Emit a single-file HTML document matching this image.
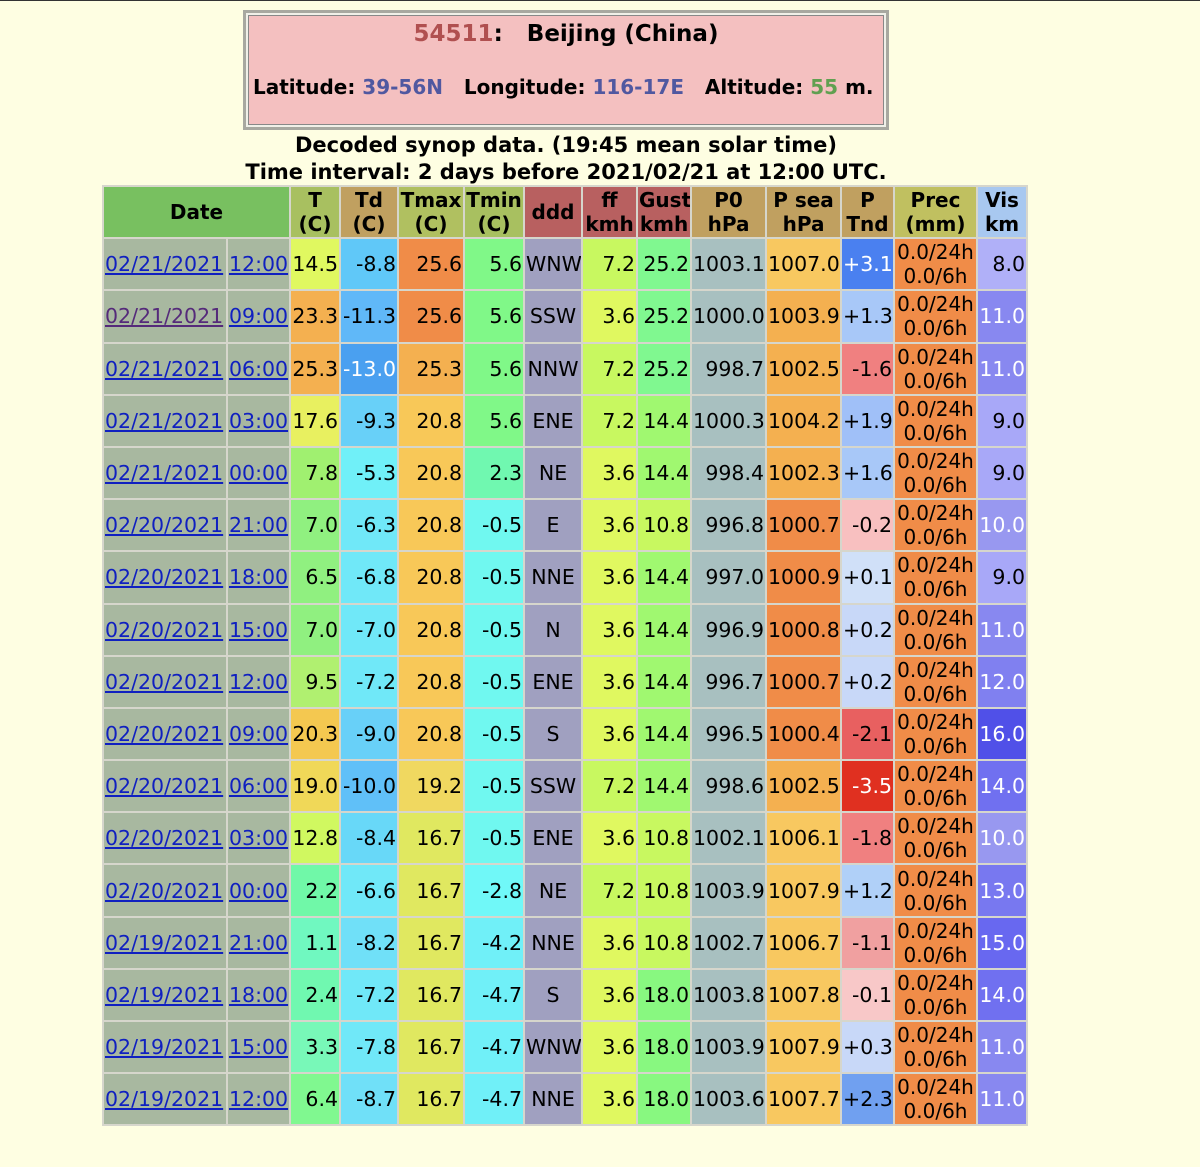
<!DOCTYPE html>
<html><head><meta charset="utf-8"><style>
html,body{margin:0;padding:0;}
body{width:1200px;height:1167px;background:#fefee2;font-family:"DejaVu Sans",Verdana,"Liberation Sans",sans-serif;position:relative;overflow:hidden;}
.box{position:absolute;left:243px;top:10px;width:640px;height:114px;border:3px solid #a8a8a0;background:#f4c0c0;box-shadow:inset 0 0 0 2px #f0f0e8, inset 0 0 0 3px #888;}
.box .l1{position:absolute;top:8px;left:0;width:100%;text-align:center;font-weight:bold;font-size:23px;}
.box .l2{position:absolute;top:62px;left:7px;font-weight:bold;font-size:20px;white-space:nowrap;}
.red{color:#b05050}.blu{color:#5058a0}.grn{color:#60a050}
.cap{position:absolute;left:0;width:1132px;text-align:center;font-weight:bold;font-size:21px;white-space:nowrap;}
table{position:absolute;left:102px;top:185px;width:926px;border-collapse:separate;border-spacing:2px;background:#d6d6cc;table-layout:fixed;}
td,th{height:50.2px;padding:0 1px;font-size:20.5px;text-align:right;white-space:nowrap;overflow:hidden;}
th{font-weight:bold;text-align:center;line-height:24px;font-size:20px}
td.d{background:#a8b8a0;text-align:left;}
td.d a{color:#1020c0;text-decoration:underline;}
td.c{text-align:center}
td.p{text-align:center;background:#f08c48;line-height:24px;font-size:20px}
.w{color:#fff}
</style></head><body>
<div style="position:absolute;left:0;top:0;width:1200px;height:1px;background:#333"></div>
<div class="box"><div class="l1"><span class="red">54511</span>: &nbsp; Beijing (China)</div>
<div class="l2">Latitude: <span class="blu">39-56N</span> &nbsp; Longitude: <span class="blu">116-17E</span> &nbsp; Altitude: <span class="grn">55</span> m.</div></div>
<div class="cap" style="top:133px">Decoded synop data. (19:45 mean solar time)</div>
<div class="cap" style="top:160px">Time interval: 2 days before 2021/02/21 at 12:00 UTC.</div>
<table>
<colgroup><col style="width:122px"><col style="width:61px"><col style="width:48px"><col style="width:56px"><col style="width:64px"><col style="width:58px"><col style="width:56px"><col style="width:53px"><col style="width:52px"><col style="width:73px"><col style="width:73px"><col style="width:51px"><col style="width:81px"><col style="width:48px"></colgroup>
<tr><th colspan="2" style="background:#78c060">Date</th><th style="background:#a8c060">T<br>(C)</th><th style="background:#c0a060">Td<br>(C)</th><th style="background:#b0c060">Tmax<br>(C)</th><th style="background:#a8c060">Tmin<br>(C)</th><th style="background:#b86060">ddd</th><th style="background:#b86060">ff<br>kmh</th><th style="background:#b86060">Gust<br>kmh</th><th style="background:#c0a060">P0<br>hPa</th><th style="background:#c0a060">P sea<br>hPa</th><th style="background:#c0a060">P<br>Tnd</th><th style="background:#c0c060">Prec<br>(mm)</th><th style="background:#a8c8f0">Vis<br>km</th></tr>
<tr><td class="d"><a>02/21/2021</a></td><td class="d"><a>12:00</a></td><td style="background:#e0f860">14.5</td><td style="background:#60c8f8">-8.8</td><td style="background:#f08c48">25.6</td><td style="background:#80f888">5.6</td><td class="c" style="background:#a0a0c0">WNW</td><td style="background:#c8f860">7.2</td><td style="background:#80f890">25.2</td><td style="background:#a8c0c0">1003.1</td><td style="background:#f8c860">1007.0</td><td class="w" style="background:#4a80f0">+3.1</td><td class="p">0.0/24h<br>0.0/6h</td><td style="background:#b0b0f8">8.0</td></tr>
<tr><td class="d"><a style="color:#552a7a">02/21/2021</a></td><td class="d"><a>09:00</a></td><td style="background:#f4b050">23.3</td><td style="background:#60b8f8">-11.3</td><td style="background:#f08c48">25.6</td><td style="background:#80f888">5.6</td><td class="c" style="background:#a0a0c0">SSW</td><td style="background:#e0f860">3.6</td><td style="background:#80f890">25.2</td><td style="background:#a8c0c0">1000.0</td><td style="background:#f4b050">1003.9</td><td style="background:#a8c8f8">+1.3</td><td class="p">0.0/24h<br>0.0/6h</td><td class="w" style="background:#8888f0">11.0</td></tr>
<tr><td class="d"><a>02/21/2021</a></td><td class="d"><a>06:00</a></td><td style="background:#f4b050">25.3</td><td class="w" style="background:#4aa0f0">-13.0</td><td style="background:#f4b050">25.3</td><td style="background:#80f888">5.6</td><td class="c" style="background:#a0a0c0">NNW</td><td style="background:#c8f860">7.2</td><td style="background:#80f890">25.2</td><td style="background:#a8c0c0">998.7</td><td style="background:#f4b050">1002.5</td><td style="background:#f08080">-1.6</td><td class="p">0.0/24h<br>0.0/6h</td><td class="w" style="background:#8888f0">11.0</td></tr>
<tr><td class="d"><a>02/21/2021</a></td><td class="d"><a>03:00</a></td><td style="background:#e8f060">17.6</td><td style="background:#68d0f8">-9.3</td><td style="background:#f8c858">20.8</td><td style="background:#80f888">5.6</td><td class="c" style="background:#a0a0c0">ENE</td><td style="background:#c8f860">7.2</td><td style="background:#a0f870">14.4</td><td style="background:#a8c0c0">1000.3</td><td style="background:#f4b050">1004.2</td><td style="background:#a0c0f8">+1.9</td><td class="p">0.0/24h<br>0.0/6h</td><td style="background:#a8a8f8">9.0</td></tr>
<tr><td class="d"><a>02/21/2021</a></td><td class="d"><a>00:00</a></td><td style="background:#a0f070">7.8</td><td style="background:#70f0f8">-5.3</td><td style="background:#f8c858">20.8</td><td style="background:#70f8b0">2.3</td><td class="c" style="background:#a0a0c0">NE</td><td style="background:#e0f860">3.6</td><td style="background:#a0f870">14.4</td><td style="background:#a8c0c0">998.4</td><td style="background:#f4b050">1002.3</td><td style="background:#a8c8f8">+1.6</td><td class="p">0.0/24h<br>0.0/6h</td><td style="background:#a8a8f8">9.0</td></tr>
<tr><td class="d"><a>02/20/2021</a></td><td class="d"><a>21:00</a></td><td style="background:#90f080">7.0</td><td style="background:#70e8f8">-6.3</td><td style="background:#f8c858">20.8</td><td style="background:#70f8f0">-0.5</td><td class="c" style="background:#a0a0c0">E</td><td style="background:#e0f860">3.6</td><td style="background:#c8f860">10.8</td><td style="background:#a8c0c0">996.8</td><td style="background:#f08c48">1000.7</td><td style="background:#f8c0c0">-0.2</td><td class="p">0.0/24h<br>0.0/6h</td><td class="w" style="background:#9898f0">10.0</td></tr>
<tr><td class="d"><a>02/20/2021</a></td><td class="d"><a>18:00</a></td><td style="background:#90f080">6.5</td><td style="background:#70e8f8">-6.8</td><td style="background:#f8c858">20.8</td><td style="background:#70f8f0">-0.5</td><td class="c" style="background:#a0a0c0">NNE</td><td style="background:#e0f860">3.6</td><td style="background:#a0f870">14.4</td><td style="background:#a8c0c0">997.0</td><td style="background:#f08c48">1000.9</td><td style="background:#d0e0f8">+0.1</td><td class="p">0.0/24h<br>0.0/6h</td><td style="background:#a8a8f8">9.0</td></tr>
<tr><td class="d"><a>02/20/2021</a></td><td class="d"><a>15:00</a></td><td style="background:#90f080">7.0</td><td style="background:#70e8f8">-7.0</td><td style="background:#f8c858">20.8</td><td style="background:#70f8f0">-0.5</td><td class="c" style="background:#a0a0c0">N</td><td style="background:#e0f860">3.6</td><td style="background:#a0f870">14.4</td><td style="background:#a8c0c0">996.9</td><td style="background:#f08c48">1000.8</td><td style="background:#c8d8f8">+0.2</td><td class="p">0.0/24h<br>0.0/6h</td><td class="w" style="background:#8888f0">11.0</td></tr>
<tr><td class="d"><a>02/20/2021</a></td><td class="d"><a>12:00</a></td><td style="background:#b0f070">9.5</td><td style="background:#70e8f8">-7.2</td><td style="background:#f8c858">20.8</td><td style="background:#70f8f0">-0.5</td><td class="c" style="background:#a0a0c0">ENE</td><td style="background:#e0f860">3.6</td><td style="background:#a0f870">14.4</td><td style="background:#a8c0c0">996.7</td><td style="background:#f08c48">1000.7</td><td style="background:#c8d8f8">+0.2</td><td class="p">0.0/24h<br>0.0/6h</td><td class="w" style="background:#8080f0">12.0</td></tr>
<tr><td class="d"><a>02/20/2021</a></td><td class="d"><a>09:00</a></td><td style="background:#f4c850">20.3</td><td style="background:#68d0f8">-9.0</td><td style="background:#f8c858">20.8</td><td style="background:#70f8f0">-0.5</td><td class="c" style="background:#a0a0c0">S</td><td style="background:#e0f860">3.6</td><td style="background:#a0f870">14.4</td><td style="background:#a8c0c0">996.5</td><td style="background:#f08c48">1000.4</td><td style="background:#e86060">-2.1</td><td class="p">0.0/24h<br>0.0/6h</td><td class="w" style="background:#5050e8">16.0</td></tr>
<tr><td class="d"><a>02/20/2021</a></td><td class="d"><a>06:00</a></td><td style="background:#f0d858">19.0</td><td style="background:#60c0f8">-10.0</td><td style="background:#f0d860">19.2</td><td style="background:#70f8f0">-0.5</td><td class="c" style="background:#a0a0c0">SSW</td><td style="background:#c8f860">7.2</td><td style="background:#a0f870">14.4</td><td style="background:#a8c0c0">998.6</td><td style="background:#f4b050">1002.5</td><td class="w" style="background:#e03020">-3.5</td><td class="p">0.0/24h<br>0.0/6h</td><td class="w" style="background:#7070f0">14.0</td></tr>
<tr><td class="d"><a>02/20/2021</a></td><td class="d"><a>03:00</a></td><td style="background:#d0f860">12.8</td><td style="background:#68d8f8">-8.4</td><td style="background:#e0e860">16.7</td><td style="background:#70f8f0">-0.5</td><td class="c" style="background:#a0a0c0">ENE</td><td style="background:#e0f860">3.6</td><td style="background:#c8f860">10.8</td><td style="background:#a8c0c0">1002.1</td><td style="background:#f8c860">1006.1</td><td style="background:#f08080">-1.8</td><td class="p">0.0/24h<br>0.0/6h</td><td class="w" style="background:#9898f0">10.0</td></tr>
<tr><td class="d"><a>02/20/2021</a></td><td class="d"><a>00:00</a></td><td style="background:#70f8a8">2.2</td><td style="background:#70e8f8">-6.6</td><td style="background:#e0e860">16.7</td><td style="background:#70f8f8">-2.8</td><td class="c" style="background:#a0a0c0">NE</td><td style="background:#c8f860">7.2</td><td style="background:#c8f860">10.8</td><td style="background:#a8c0c0">1003.9</td><td style="background:#f8c860">1007.9</td><td style="background:#b0d0f8">+1.2</td><td class="p">0.0/24h<br>0.0/6h</td><td class="w" style="background:#7878f0">13.0</td></tr>
<tr><td class="d"><a>02/19/2021</a></td><td class="d"><a>21:00</a></td><td style="background:#70f8c0">1.1</td><td style="background:#70e0f8">-8.2</td><td style="background:#e0e860">16.7</td><td style="background:#70f0f8">-4.2</td><td class="c" style="background:#a0a0c0">NNE</td><td style="background:#e0f860">3.6</td><td style="background:#c8f860">10.8</td><td style="background:#a8c0c0">1002.7</td><td style="background:#f8c860">1006.7</td><td style="background:#f0a0a0">-1.1</td><td class="p">0.0/24h<br>0.0/6h</td><td class="w" style="background:#6868f0">15.0</td></tr>
<tr><td class="d"><a>02/19/2021</a></td><td class="d"><a>18:00</a></td><td style="background:#70f8b0">2.4</td><td style="background:#70e8f8">-7.2</td><td style="background:#e0e860">16.7</td><td style="background:#70f0f8">-4.7</td><td class="c" style="background:#a0a0c0">S</td><td style="background:#e0f860">3.6</td><td style="background:#88f880">18.0</td><td style="background:#a8c0c0">1003.8</td><td style="background:#f8c860">1007.8</td><td style="background:#f8c8c8">-0.1</td><td class="p">0.0/24h<br>0.0/6h</td><td class="w" style="background:#7070f0">14.0</td></tr>
<tr><td class="d"><a>02/19/2021</a></td><td class="d"><a>15:00</a></td><td style="background:#78f8b8">3.3</td><td style="background:#70e8f8">-7.8</td><td style="background:#e0e860">16.7</td><td style="background:#70f0f8">-4.7</td><td class="c" style="background:#a0a0c0">WNW</td><td style="background:#e0f860">3.6</td><td style="background:#88f880">18.0</td><td style="background:#a8c0c0">1003.9</td><td style="background:#f8c860">1007.9</td><td style="background:#c8d8f8">+0.3</td><td class="p">0.0/24h<br>0.0/6h</td><td class="w" style="background:#8888f0">11.0</td></tr>
<tr><td class="d"><a>02/19/2021</a></td><td class="d"><a>12:00</a></td><td style="background:#80f890">6.4</td><td style="background:#70e0f8">-8.7</td><td style="background:#e0e860">16.7</td><td style="background:#70f0f8">-4.7</td><td class="c" style="background:#a0a0c0">NNE</td><td style="background:#e0f860">3.6</td><td style="background:#88f880">18.0</td><td style="background:#a8c0c0">1003.6</td><td style="background:#f8c860">1007.7</td><td style="background:#70a0f0">+2.3</td><td class="p">0.0/24h<br>0.0/6h</td><td class="w" style="background:#8888f0">11.0</td></tr>
</table>
</body></html>
